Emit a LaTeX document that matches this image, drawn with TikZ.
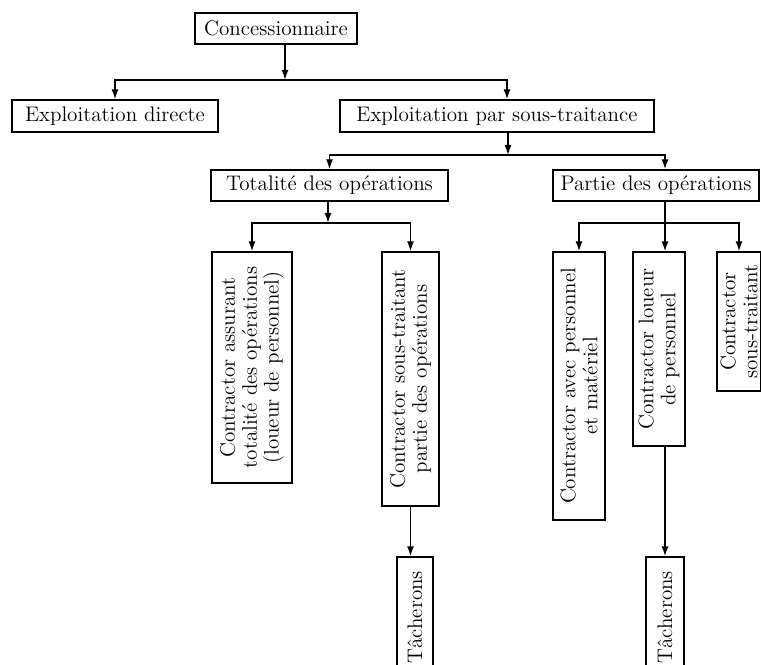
\documentclass[tikz,border=0pt]{standalone}
\usepackage{tikz}
\usetikzlibrary{arrows.meta}

\tikzset{
    box/.style={draw, line width=0.8pt, inner sep=2pt, font=\fontsize{12}{12.5}\selectfont},
    vbox/.style={box, rotate=90, align=center},
    link/.style={line width=0.8pt},
    arr/.style={link, -{Latex[length=2mm, width=1.4mm]}}
}

\begin{document}
\begin{tikzpicture}
        \clip (0, 0) rectangle (15.22, 13.28);

        \node[box, minimum width=3.24cm, minimum height=0.62cm] (con) at (5.52, 12.71) {Concessionnaire};
        \node[box, minimum width=4.12cm, minimum height=0.64cm] (dir) at (2.30, 10.96) {Exploitation directe};
        \node[box, minimum width=6.28cm, minimum height=0.64cm] (sous) at (9.94, 10.96) {Exploitation par sous-traitance};

        \coordinate (j1) at (5.70, 11.68);
        \draw[arr] (con.south -| j1) -- (j1);
        \draw[arr] (j1) -| (dir);
        \draw[arr] (j1) -| ([xshift=0.2cm]sous.north);

        \node[box, minimum width=4.74cm, minimum height=0.62cm] (tot) at (6.59, 9.57) {Totalité des opérations};
        \node[box, minimum width=4.12cm, minimum height=0.62cm] (par) at (13.12, 9.57) {Partie des opérations};

        \coordinate (j2) at (10.16, 10.18);
        \draw[arr] (sous.south -| j2) -- (j2);
        \draw[arr] (j2) -| (tot);
        \draw[arr] (j2) -| ([xshift=0.18cm]par.north);

        \node[vbox, minimum width=4.62cm, minimum height=1.6cm] (a) at (5.04, 5.93) {Contractor assurant\\totalité des opérations\\(loueur de personnel)};
        \node[vbox, minimum width=5.08cm, minimum height=1.14cm] (b) at (8.21, 5.70) {Contractor sous-traitant\\partie des opérations};
        \node[vbox, minimum width=2.4cm, minimum height=0.72cm] (t1) at (8.30, 0.94) {Tâcherons};

        \coordinate (j3) at (6.56, 8.82);
        \draw[arr] (tot.south -| j3) -- (j3);
        \draw[arr] (j3) -| (a);
        \draw[arr] (j3) -| (b);
        \draw[arr] (b.west) -- (b.west |- t1.east);

        \node[vbox, minimum width=5.36cm, minimum height=1.04cm] (c) at (11.58, 5.56) {Contractor avec personnel\\et matériel};
        \node[vbox, minimum width=3.88cm, minimum height=1.04cm] (d) at (13.18, 6.30) {Contractor loueur\\de personnel};
        \node[vbox, minimum width=2.4cm, minimum height=0.76cm] (t2) at (13.30, 0.94) {Tâcherons};
        \node[vbox, minimum width=2.78cm, minimum height=0.88cm] (e) at (14.78, 6.85) {Contractor\\sous-traitant};

        \coordinate (j4) at (13.30, 8.82);
        \draw[arr] (par.south -| j4) -- (d.east -| j4);
        \draw[arr] (j4) -| (c);
        \draw[arr] (j4) -| (e);
        \draw[arr] (d.west -| j4) -- (t2.east -| j4);
    \end{tikzpicture}
\end{document}
